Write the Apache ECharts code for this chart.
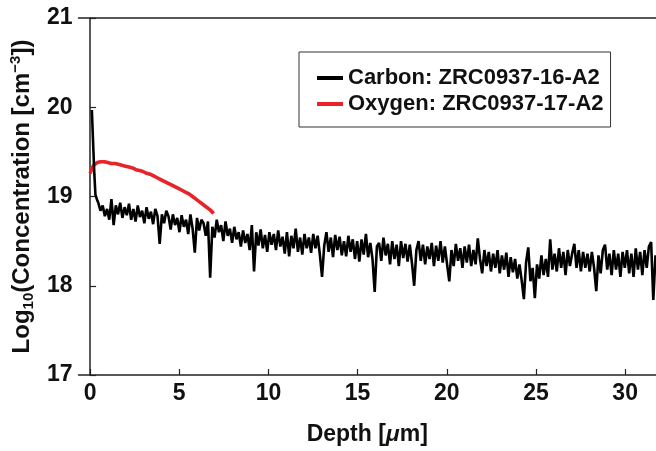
<!DOCTYPE html>
<html><head><meta charset="utf-8">
<script src="https://cdn.jsdelivr.net/npm/echarts@6/dist/echarts.min.js"></script>
<style>html,body{margin:0;padding:0;background:#fff}#c{width:656px;height:451px}</style>
</head><body><div id="c"></div>
<script>
const xTicks = [0, 5, 10, 15, 20, 25, 30];
const yTicks = [17, 18, 19, 20, 21];
const seriesNames = ['Carbon: ZRC0937-16-A2', 'Oxygen: ZRC0937-17-A2'];

// Carbon: near-surface spike (explicit depths)
const carbonHeadDepth = [0.1, 0.17, 0.24, 0.3, 0.38];
const carbonHeadValue = [19.97, 19.6, 19.25, 19.02, 18.97];
// Carbon: bulk profile, uniform depth grid
const carbonDepthStart = 0.46;
const carbonDepthStep = 0.123;
const carbonValues = [
  18.93, 18.84, 18.90, 18.78, 18.86, 18.74, 18.97, 18.68, 18.90, 18.80, 18.93, 18.76, 18.88, 18.79, 18.92, 18.74,
  18.86, 18.72, 18.90, 18.77, 18.84, 18.70, 18.88, 18.75, 18.83, 18.69, 18.86, 18.78, 18.47, 18.80, 18.70, 18.84,
  18.78, 18.63, 18.80, 18.68, 18.76, 18.60, 18.79, 18.66, 18.74, 18.58, 18.80, 18.64, 18.37, 18.76, 18.62, 18.74,
  18.70, 18.56, 18.72, 18.09, 18.66, 18.54, 18.74, 18.60, 18.68, 18.50, 18.72, 18.56, 18.64, 18.48, 18.66, 18.52,
  18.60, 18.44, 18.62, 18.48, 18.58, 18.40, 18.68, 18.16, 18.60, 18.45, 18.63, 18.42, 18.57, 18.38, 18.60, 18.46,
  18.58, 18.40, 18.62, 18.44, 18.55, 18.36, 18.60, 18.33, 18.56, 18.42, 18.64, 18.38, 18.54, 18.35, 18.58, 18.42,
  18.54, 18.37, 18.58, 18.42, 18.56, 18.35, 18.10, 18.45, 18.60, 18.38, 18.54, 18.32, 18.57, 18.40, 18.55, 18.34,
  18.50, 18.33, 18.56, 18.38, 18.52, 18.30, 18.50, 18.27, 18.52, 18.35, 18.58, 18.32, 18.48, 18.30, 17.93, 18.44,
  18.48, 18.28, 18.54, 18.34, 18.47, 18.24, 18.50, 18.30, 18.46, 18.22, 18.50, 18.31, 18.47, 18.27, 18.46, 18.25,
  18.00, 18.40, 18.50, 18.28, 18.46, 18.24, 18.44, 18.30, 18.48, 18.22, 18.45, 18.28, 18.50, 18.26, 18.44, 18.24,
  18.05, 18.40, 18.22, 18.47, 18.28, 18.42, 18.20, 18.44, 18.26, 18.46, 18.22, 18.40, 18.24, 18.53, 18.30, 18.14,
  18.40, 18.22, 18.38, 18.16, 18.36, 18.20, 18.40, 18.14, 18.34, 18.18, 18.37, 18.10, 18.32, 18.15, 18.30, 18.08,
  18.24, 18.06, 17.85, 18.26, 18.43, 18.05, 18.20, 17.86, 18.24, 18.08, 18.34, 18.12, 18.30, 18.10, 18.52, 18.18,
  18.36, 18.16, 18.42, 18.20, 18.38, 18.12, 18.40, 18.22, 18.36, 18.47, 18.20, 18.40, 18.16, 18.38, 18.20, 18.36,
  18.16, 18.38, 18.20, 17.94, 18.34, 18.14, 18.40, 18.46, 18.18, 18.36, 18.12, 18.40, 18.18, 18.36, 18.10, 18.38,
  18.20, 18.40, 18.14, 18.36, 18.10, 18.42, 18.18, 18.38, 18.12, 18.40, 18.20, 18.44, 18.49, 17.84, 18.34, 18.18,
  18.30
];

// Oxygen profile, uniform depth grid
const oxygenDepthStart = 0;
const oxygenDepthStep = 0.099;
const oxygenValues = [
  19.26, 19.31, 19.35, 19.37, 19.38, 19.38, 19.39, 19.38, 19.39, 19.38,
  19.38, 19.38, 19.37, 19.38, 19.37, 19.36, 19.36, 19.35, 19.35, 19.34,
  19.34, 19.33, 19.33, 19.32, 19.32, 19.31, 19.30, 19.30, 19.29, 19.28,
  19.28, 19.27, 19.26, 19.25, 19.25, 19.24, 19.23, 19.22, 19.21, 19.21,
  19.19, 19.18, 19.17, 19.16, 19.15, 19.14, 19.13, 19.12, 19.11, 19.10,
  19.09, 19.08, 19.07, 19.06, 19.05, 19.04, 19.03, 19.01, 19.00, 18.99,
  18.97, 18.96, 18.94, 18.93, 18.91, 18.90, 18.88, 18.87, 18.85, 18.83,
  18.81
];

const carbonData = carbonHeadDepth.map((d, i) => [d, carbonHeadValue[i]])
  .concat(carbonValues.map((v, i) => [carbonDepthStart + i * carbonDepthStep, v]));
const oxygenData = oxygenValues.map((v, i) => [oxygenDepthStart + i * oxygenDepthStep, v]);

const FONT = '"Liberation Sans", Arial, sans-serif';
const axisColor = '#222';
const textColor = '#111';

const chart = echarts.init(document.getElementById('c'), null, {renderer: 'canvas'});
chart.setOption({
  animation: false,
  backgroundColor: '#fff',
  grid: {left: 78, top: 18, right: 0, bottom: 69, containLabel: false},
  legend: {
    data: seriesNames,
    orient: 'vertical',
    left: 299, top: 52,
    icon: 'rect',
    itemWidth: 26, itemHeight: 4,
    itemGap: 4,
    padding: [15, 7, 12, 18],
    borderColor: '#333', borderWidth: 1,
    backgroundColor: '#fff',
    textStyle: {fontFamily: FONT, fontWeight: 'bold', fontSize: 22, lineHeight: 22, color: textColor}
  },
  xAxis: [{
    type: 'value', min: -0.65, max: 31.73,
    axisLine: {show: true, onZero: false, lineStyle: {color: axisColor, width: 1.5}},
    axisTick: {show: true, inside: true, length: 6, customValues: xTicks, lineStyle: {color: axisColor, width: 1.2}},
    axisLabel: {customValues: xTicks, fontFamily: FONT, fontWeight: 'bold', fontSize: 23, color: textColor, margin: 7},
    splitLine: {show: false},
    name: '{a|Depth [}{i|μ}{a|m]}',
    nameLocation: 'middle', nameGap: 48,
    nameTextStyle: {
      rich: {
        a: {fontFamily: FONT, fontWeight: 'bold', fontSize: 23, color: textColor},
        i: {fontFamily: FONT, fontWeight: 'bold', fontStyle: 'italic', fontSize: 23, color: textColor}
      }
    }
  }, {
    type: 'value', position: 'top', min: -0.65, max: 31.73,
    axisLine: {show: true, onZero: false, lineStyle: {color: axisColor, width: 1.5}},
    axisTick: {show: false}, axisLabel: {show: false}, splitLine: {show: false}
  }],
  yAxis: {
    type: 'value', min: 17, max: 21, interval: 1,
    axisLine: {show: true, lineStyle: {color: axisColor, width: 1.5}},
    axisTick: {show: true, inside: true, length: 6, customValues: yTicks, lineStyle: {color: axisColor, width: 1.2}},
    axisLabel: {customValues: yTicks, fontFamily: FONT, fontWeight: 'bold', fontSize: 23, color: textColor, margin: 6},
    splitLine: {show: false},
    name: '{a|Log}{sub|10}{a|(Concentration [cm}{sup|−3}{a|])}',
    nameLocation: 'middle', nameGap: 34, nameRotate: 90,
    nameTextStyle: {
      rich: {
        a: {fontFamily: FONT, fontWeight: 'bold', fontSize: 24, color: textColor, lineHeight: 28, verticalAlign: 'middle'},
        sub: {fontFamily: FONT, fontWeight: 'bold', fontSize: 15, color: textColor, lineHeight: 28, verticalAlign: 'bottom'},
        sup: {fontFamily: FONT, fontWeight: 'bold', fontSize: 15, color: textColor, lineHeight: 28, verticalAlign: 'top'}
      }
    }
  },
  series: [{
    name: seriesNames[1], type: 'line', data: oxygenData, showSymbol: false, symbol: 'none',
    lineStyle: {color: '#e8232a', width: 3.6}, itemStyle: {color: '#e8232a'}, z: 2
  }, {
    name: seriesNames[0], type: 'line', data: carbonData, showSymbol: false, symbol: 'none',
    lineStyle: {color: '#000', width: 2.6}, itemStyle: {color: '#000'}, z: 3
  }]
});
</script></body></html>
